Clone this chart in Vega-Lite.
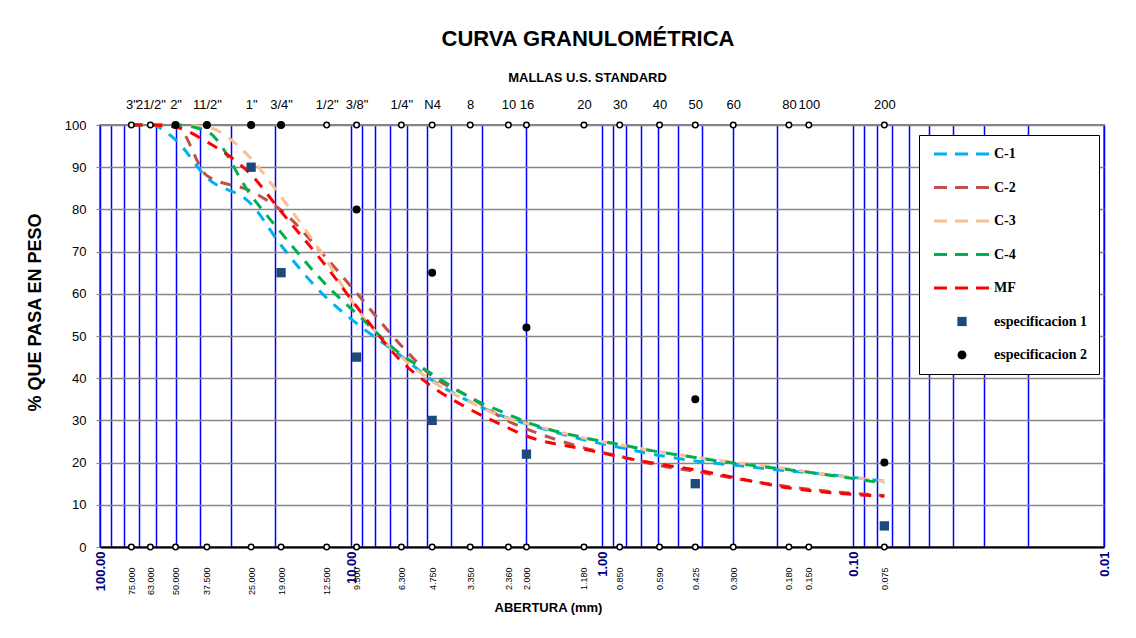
{
  "$schema": "https://vega.github.io/schema/vega-lite/v6.json",
  "width": 1004,
  "height": 422,
  "autosize": {"type": "none"},
  "padding": {"left": 100, "top": 125, "right": 32, "bottom": 91},
  "background": "white",
  "title": {
    "text": "CURVA GRANULOMÉTRICA",
    "font": "Liberation Sans", "fontSize": 22, "fontWeight": "bold", "color": "black",
    "anchor": "middle", "frame": "group", "dx": -14, "offset": 20
  },
  "datasets": {
    "curvas": [
      {"serie": "C-1", "abertura": 75, "pasa": 100}, {"serie": "C-1", "abertura": 63, "pasa": 100}, {"serie": "C-1", "abertura": 50, "pasa": 96.5}, {"serie": "C-1", "abertura": 37.5, "pasa": 87.5}, {"serie": "C-1", "abertura": 25, "pasa": 81.3}, {"serie": "C-1", "abertura": 19, "pasa": 71.5}, {"serie": "C-1", "abertura": 12.5, "pasa": 59}, {"serie": "C-1", "abertura": 9.5, "pasa": 53}, {"serie": "C-1", "abertura": 6.3, "pasa": 45.2}, {"serie": "C-1", "abertura": 4.75, "pasa": 39.5}, {"serie": "C-1", "abertura": 3.35, "pasa": 34.4}, {"serie": "C-1", "abertura": 2.36, "pasa": 30.5}, {"serie": "C-1", "abertura": 2, "pasa": 29.2}, {"serie": "C-1", "abertura": 1.18, "pasa": 25.4}, {"serie": "C-1", "abertura": 0.85, "pasa": 23.6}, {"serie": "C-1", "abertura": 0.59, "pasa": 21.7}, {"serie": "C-1", "abertura": 0.425, "pasa": 20.4}, {"serie": "C-1", "abertura": 0.3, "pasa": 19.4}, {"serie": "C-1", "abertura": 0.18, "pasa": 18}, {"serie": "C-1", "abertura": 0.15, "pasa": 17.6}, {"serie": "C-1", "abertura": 0.075, "pasa": 15.6},
      {"serie": "C-2", "abertura": 75, "pasa": 100}, {"serie": "C-2", "abertura": 63, "pasa": 100}, {"serie": "C-2", "abertura": 50, "pasa": 100}, {"serie": "C-2", "abertura": 37.5, "pasa": 88}, {"serie": "C-2", "abertura": 25, "pasa": 84.3}, {"serie": "C-2", "abertura": 19, "pasa": 79.8}, {"serie": "C-2", "abertura": 12.5, "pasa": 68.4}, {"serie": "C-2", "abertura": 9.5, "pasa": 60.2}, {"serie": "C-2", "abertura": 6.3, "pasa": 47.7}, {"serie": "C-2", "abertura": 4.75, "pasa": 40.5}, {"serie": "C-2", "abertura": 3.35, "pasa": 35.5}, {"serie": "C-2", "abertura": 2.36, "pasa": 29.8}, {"serie": "C-2", "abertura": 2, "pasa": 28}, {"serie": "C-2", "abertura": 1.18, "pasa": 23.5}, {"serie": "C-2", "abertura": 0.85, "pasa": 21.5}, {"serie": "C-2", "abertura": 0.59, "pasa": 19.3}, {"serie": "C-2", "abertura": 0.425, "pasa": 17.9}, {"serie": "C-2", "abertura": 0.3, "pasa": 16.3}, {"serie": "C-2", "abertura": 0.18, "pasa": 14.3}, {"serie": "C-2", "abertura": 0.15, "pasa": 13.7}, {"serie": "C-2", "abertura": 0.075, "pasa": 12.2},
      {"serie": "C-3", "abertura": 75, "pasa": 100}, {"serie": "C-3", "abertura": 63, "pasa": 100}, {"serie": "C-3", "abertura": 50, "pasa": 100}, {"serie": "C-3", "abertura": 37.5, "pasa": 99.5}, {"serie": "C-3", "abertura": 25, "pasa": 92}, {"serie": "C-3", "abertura": 19, "pasa": 83}, {"serie": "C-3", "abertura": 12.5, "pasa": 67.9}, {"serie": "C-3", "abertura": 9.5, "pasa": 56.6}, {"serie": "C-3", "abertura": 6.3, "pasa": 45}, {"serie": "C-3", "abertura": 4.75, "pasa": 39.3}, {"serie": "C-3", "abertura": 3.35, "pasa": 34.3}, {"serie": "C-3", "abertura": 2.36, "pasa": 30.4}, {"serie": "C-3", "abertura": 2, "pasa": 29.3}, {"serie": "C-3", "abertura": 1.18, "pasa": 25.8}, {"serie": "C-3", "abertura": 0.85, "pasa": 24.2}, {"serie": "C-3", "abertura": 0.59, "pasa": 22.6}, {"serie": "C-3", "abertura": 0.425, "pasa": 21.3}, {"serie": "C-3", "abertura": 0.3, "pasa": 20.1}, {"serie": "C-3", "abertura": 0.18, "pasa": 18.5}, {"serie": "C-3", "abertura": 0.15, "pasa": 17.8}, {"serie": "C-3", "abertura": 0.075, "pasa": 15.6},
      {"serie": "C-4", "abertura": 75, "pasa": 100}, {"serie": "C-4", "abertura": 63, "pasa": 100}, {"serie": "C-4", "abertura": 50, "pasa": 100}, {"serie": "C-4", "abertura": 37.5, "pasa": 98.5}, {"serie": "C-4", "abertura": 25, "pasa": 83.3}, {"serie": "C-4", "abertura": 19, "pasa": 74.5}, {"serie": "C-4", "abertura": 12.5, "pasa": 62}, {"serie": "C-4", "abertura": 9.5, "pasa": 55.3}, {"serie": "C-4", "abertura": 6.3, "pasa": 45.6}, {"serie": "C-4", "abertura": 4.75, "pasa": 41}, {"serie": "C-4", "abertura": 3.35, "pasa": 35.4}, {"serie": "C-4", "abertura": 2.36, "pasa": 31.4}, {"serie": "C-4", "abertura": 2, "pasa": 29.6}, {"serie": "C-4", "abertura": 1.18, "pasa": 25.9}, {"serie": "C-4", "abertura": 0.85, "pasa": 24.3}, {"serie": "C-4", "abertura": 0.59, "pasa": 22.5}, {"serie": "C-4", "abertura": 0.425, "pasa": 21.2}, {"serie": "C-4", "abertura": 0.3, "pasa": 19.9}, {"serie": "C-4", "abertura": 0.18, "pasa": 18.3}, {"serie": "C-4", "abertura": 0.15, "pasa": 17.7}, {"serie": "C-4", "abertura": 0.075, "pasa": 15.1},
      {"serie": "MF", "abertura": 75, "pasa": 100}, {"serie": "MF", "abertura": 63, "pasa": 100}, {"serie": "MF", "abertura": 50, "pasa": 99.5}, {"serie": "MF", "abertura": 37.5, "pasa": 96}, {"serie": "MF", "abertura": 25, "pasa": 88.2}, {"serie": "MF", "abertura": 19, "pasa": 79.5}, {"serie": "MF", "abertura": 12.5, "pasa": 66.4}, {"serie": "MF", "abertura": 9.5, "pasa": 57}, {"serie": "MF", "abertura": 6.3, "pasa": 44}, {"serie": "MF", "abertura": 4.75, "pasa": 38}, {"serie": "MF", "abertura": 3.35, "pasa": 32.6}, {"serie": "MF", "abertura": 2.36, "pasa": 28.2}, {"serie": "MF", "abertura": 2, "pasa": 26.3}, {"serie": "MF", "abertura": 1.18, "pasa": 23.2}, {"serie": "MF", "abertura": 0.85, "pasa": 21.4}, {"serie": "MF", "abertura": 0.59, "pasa": 19.6}, {"serie": "MF", "abertura": 0.425, "pasa": 18.3}, {"serie": "MF", "abertura": 0.3, "pasa": 16.5}, {"serie": "MF", "abertura": 0.18, "pasa": 14}, {"serie": "MF", "abertura": 0.15, "pasa": 13.4}, {"serie": "MF", "abertura": 0.075, "pasa": 12}
    ],
    "especificaciones": [
      {"serie": "especificacion 1", "abertura": 25, "pasa": 90}, {"serie": "especificacion 1", "abertura": 19, "pasa": 65}, {"serie": "especificacion 1", "abertura": 9.5, "pasa": 45}, {"serie": "especificacion 1", "abertura": 4.75, "pasa": 30}, {"serie": "especificacion 1", "abertura": 2, "pasa": 22}, {"serie": "especificacion 1", "abertura": 0.425, "pasa": 15}, {"serie": "especificacion 1", "abertura": 0.075, "pasa": 5},
      {"serie": "especificacion 2", "abertura": 50, "pasa": 100}, {"serie": "especificacion 2", "abertura": 37.5, "pasa": 100}, {"serie": "especificacion 2", "abertura": 25, "pasa": 100}, {"serie": "especificacion 2", "abertura": 19, "pasa": 100}, {"serie": "especificacion 2", "abertura": 9.5, "pasa": 80}, {"serie": "especificacion 2", "abertura": 4.75, "pasa": 65}, {"serie": "especificacion 2", "abertura": 2, "pasa": 52}, {"serie": "especificacion 2", "abertura": 0.425, "pasa": 35}, {"serie": "especificacion 2", "abertura": 0.075, "pasa": 20}
    ],
    "tamices": [
      {"abertura": 75, "pasa": 0}, {"abertura": 63, "pasa": 0}, {"abertura": 50, "pasa": 0}, {"abertura": 37.5, "pasa": 0}, {"abertura": 25, "pasa": 0}, {"abertura": 19, "pasa": 0}, {"abertura": 12.5, "pasa": 0}, {"abertura": 9.5, "pasa": 0}, {"abertura": 6.3, "pasa": 0}, {"abertura": 4.75, "pasa": 0}, {"abertura": 3.35, "pasa": 0}, {"abertura": 2.36, "pasa": 0}, {"abertura": 2, "pasa": 0}, {"abertura": 1.18, "pasa": 0}, {"abertura": 0.85, "pasa": 0}, {"abertura": 0.59, "pasa": 0}, {"abertura": 0.425, "pasa": 0}, {"abertura": 0.3, "pasa": 0}, {"abertura": 0.18, "pasa": 0}, {"abertura": 0.15, "pasa": 0}, {"abertura": 0.075, "pasa": 0},
      {"abertura": 75, "pasa": 100}, {"abertura": 63, "pasa": 100}, {"abertura": 50, "pasa": 100}, {"abertura": 37.5, "pasa": 100}, {"abertura": 25, "pasa": 100}, {"abertura": 19, "pasa": 100}, {"abertura": 12.5, "pasa": 100}, {"abertura": 9.5, "pasa": 100}, {"abertura": 6.3, "pasa": 100}, {"abertura": 4.75, "pasa": 100}, {"abertura": 3.35, "pasa": 100}, {"abertura": 2.36, "pasa": 100}, {"abertura": 2, "pasa": 100}, {"abertura": 1.18, "pasa": 100}, {"abertura": 0.85, "pasa": 100}, {"abertura": 0.59, "pasa": 100}, {"abertura": 0.425, "pasa": 100}, {"abertura": 0.3, "pasa": 100}, {"abertura": 0.18, "pasa": 100}, {"abertura": 0.15, "pasa": 100}, {"abertura": 0.075, "pasa": 100}
    ]
  },
  "layer": [
    {
      "data": {"name": "curvas"},
      "mark": {"type": "line", "strokeWidth": 3, "strokeDash": [11, 9], "interpolate": "monotone"},
      "encoding": {
        "x": {
          "field": "abertura", "type": "quantitative",
          "scale": {"type": "log", "domain": [0.01, 100], "reverse": true, "nice": false},
          "axis": {
            "orient": "bottom",
            "values": [100, 90, 80, 70, 60, 50, 40, 30, 20, 10, 9, 8, 7, 6, 5, 4, 3, 2, 1, 0.9, 0.8, 0.7, 0.6, 0.5, 0.4, 0.3, 0.2, 0.1, 0.09, 0.08, 0.07, 0.06, 0.05, 0.04, 0.03, 0.02, 0.01],
            "grid": true, "gridColor": "#0000FF", "gridWidth": 1.5, "gridOpacity": 1,
            "ticks": false, "domain": true, "domainColor": "black", "domainWidth": 2,
            "labelExpr": "indexof([100, 10, 1, 0.1, 0.01], datum.value) >= 0 ? format(datum.value, '.2f') : ''",
            "labelAngle": 270, "labelFont": "Liberation Sans", "labelFontSize": 13, "labelFontWeight": "bold", "labelColor": "#000080",
            "labelPadding": 4, "labelOverlap": false, "labelBound": false, "labelFlush": false,
            "title": "ABERTURA (mm)", "titleFont": "Liberation Sans", "titleFontSize": 13, "titleFontWeight": "bold", "titleColor": "black",
            "titleX": 448, "titleY": 54
          }
        },
        "y": {
          "field": "pasa", "type": "quantitative",
          "scale": {"domain": [0, 100], "nice": false},
          "axis": {
            "orient": "left",
            "values": [0, 10, 20, 30, 40, 50, 60, 70, 80, 90, 100],
            "grid": true, "gridColor": "#868686", "gridWidth": 1.5, "gridOpacity": 1,
            "domain": false, "ticks": true, "tickColor": "#808080", "tickSize": 4,
            "labelFont": "Liberation Sans", "labelFontSize": 13, "labelColor": "black", "labelPadding": 10,
            "title": "% QUE PASA EN PESO", "titleFont": "Liberation Sans", "titleFontSize": 18, "titleFontWeight": "bold", "titleColor": "black",
            "titlePadding": 20, "titleY": 187
          }
        },
        "color": {
          "field": "serie", "type": "nominal",
          "scale": {
            "domain": ["C-1", "C-2", "C-3", "C-4", "MF", "especificacion 1", "especificacion 2"],
            "range": ["#00B0F0", "#C0504D", "#FAC090", "#00B050", "#FF0000", "#1F497D", "#000000"]
          },
          "legend": {
            "title": null, "orient": "none", "legendX": 819, "legendY": 10,
            "fillColor": "white", "strokeColor": "black", "padding": 12, "symbolOffset": 10,
            "symbolSize": 784, "symbolStrokeWidth": 3,
            "labelFont": "Liberation Serif", "labelFontSize": 14, "labelFontWeight": "bold", "labelColor": "black",
            "labelOffset": 39, "rowPadding": 19.5, "labelLimit": 250,
            "encode": {
              "symbols": {
                "update": {
                  "shape": {"signal": "datum.value == 'especificacion 1' ? 'M0.67,-0.33H1.33V0.33H0.67Z' : datum.value == 'especificacion 2' ? 'M0.68,0A0.32,0.32,0,1,0,1.32,0A0.32,0.32,0,1,0,0.68,0Z' : 'M-1,0H3'"},
                  "size": {"value": 784},
                  "strokeDash": {"signal": "(datum.value == 'especificacion 1' || datum.value == 'especificacion 2') ? [1, 0] : [13, 8]"},
                  "strokeWidth": {"signal": "(datum.value == 'especificacion 1' || datum.value == 'especificacion 2') ? 0 : 3"},
                  "fill": {"signal": "(datum.value == 'especificacion 1' || datum.value == 'especificacion 2') ? scale('color', datum.value) : 'transparent'"},
                  "stroke": {"signal": "scale('color', datum.value)"},
                  "opacity": {"value": 1}
                }
              }
            }
          }
        },
        "order": {"field": "abertura", "sort": "descending"}
      }
    },
    {
      "data": {"name": "tamices"},
      "mark": {"type": "point", "shape": "circle", "size": 30, "filled": true, "fill": "white", "stroke": "black", "strokeWidth": 1.5, "opacity": 1},
      "encoding": {
        "x": {
          "field": "abertura", "type": "quantitative",
          "scale": {"type": "log", "domain": [0.01, 100], "reverse": true, "nice": false},
          "axis": {
            "orient": "top",
            "values": [75, 63, 50, 37.5, 25, 19, 12.5, 9.5, 6.3, 4.75, 3.35, 2.36, 2, 1.18, 0.85, 0.59, 0.425, 0.3, 0.18, 0.15, 0.075],
            "labelExpr": "['3\"', '21/2\"', '2\"', '11/2\"', '1\"', '3/4\"', '1/2\"', '3/8\"', '1/4\"', 'N4', '8', '10', '16', '20', '30', '40', '50', '60', '80', '100', '200'][indexof([75, 63, 50, 37.5, 25, 19, 12.5, 9.5, 6.3, 4.75, 3.35, 2.36, 2, 1.18, 0.85, 0.59, 0.425, 0.3, 0.18, 0.15, 0.075], datum.value)]",
            "grid": false, "ticks": false, "domain": false,
            "labelFont": "Liberation Sans", "labelFontSize": 13, "labelColor": "black", "labelPadding": 14,
            "labelOverlap": false, "labelBound": false, "labelFlush": false, "labelAngle": 0,
            "title": "MALLAS U.S. STANDARD", "titleFont": "Liberation Sans", "titleFontSize": 13, "titleFontWeight": "bold", "titleColor": "black",
            "titlePadding": 14, "titleX": 487
          }
        },
        "y": {"field": "pasa", "type": "quantitative", "scale": {"domain": [0, 100], "nice": false}, "axis": null}
      }
    },
    {
      "data": {"name": "especificaciones"},
      "transform": [{"filter": "datum.serie == 'especificacion 1'"}],
      "mark": {"type": "point", "shape": "square", "size": 87, "filled": true, "opacity": 1},
      "encoding": {
        "x": {
          "field": "abertura", "type": "quantitative",
          "scale": {"type": "log", "domain": [0.01, 100], "reverse": true, "nice": false},
          "axis": {
            "orient": "bottom",
            "values": [75, 63, 50, 37.5, 25, 19, 12.5, 9.5, 6.3, 4.75, 3.35, 2.36, 2, 1.18, 0.85, 0.59, 0.425, 0.3, 0.18, 0.15, 0.075],
            "labelExpr": "format(datum.value, '.3f')",
            "grid": false, "ticks": false, "domain": false,
            "labelAngle": 270, "labelFont": "Liberation Sans", "labelFontSize": 9, "labelColor": "black", "labelPadding": 20,
            "labelOverlap": false, "labelBound": false, "labelFlush": false,
            "title": null
          }
        },
        "y": {"field": "pasa", "type": "quantitative", "scale": {"domain": [0, 100], "nice": false}, "axis": null},
        "color": {"field": "serie", "type": "nominal"}
      }
    },
    {
      "data": {"name": "especificaciones"},
      "transform": [{"filter": "datum.serie == 'especificacion 2'"}],
      "mark": {"type": "point", "shape": "circle", "size": 64, "filled": true, "opacity": 1},
      "encoding": {
        "x": {
          "field": "abertura", "type": "quantitative",
          "scale": {"type": "log", "domain": [0.01, 100], "reverse": true, "nice": false},
          "axis": null
        },
        "y": {"field": "pasa", "type": "quantitative", "scale": {"domain": [0, 100], "nice": false}, "axis": null},
        "color": {"field": "serie", "type": "nominal"}
      }
    }
  ],
  "resolve": {"axis": {"x": "independent", "y": "independent"}},
  "config": {
    "view": {"stroke": "#808080", "strokeWidth": 2},
    "font": "Liberation Sans"
  }
}
